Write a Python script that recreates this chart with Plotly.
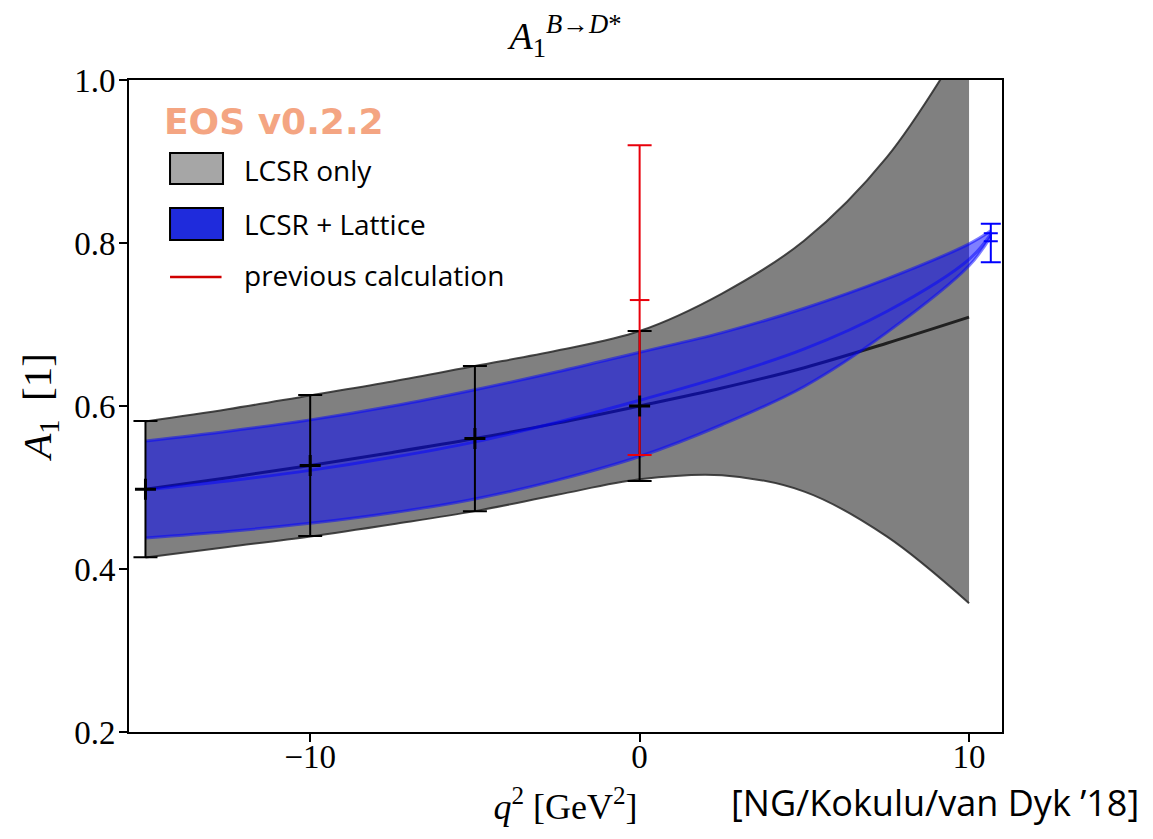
import plotly.graph_objects as go

# ---------------- data ----------------
q2_lcsr = [-15, -12.5, -10, -7.5, -5, -2.5, 0, 2.5, 5, 7.5, 10]
lcsr_upper = [0.581, 0.596, 0.613, 0.630, 0.649, 0.668, 0.692, 0.738, 0.803, 0.905, 1.058]
lcsr_central = [0.498, 0.512, 0.527, 0.543, 0.560, 0.579, 0.600, 0.622, 0.647, 0.677, 0.709]
lcsr_lower = [0.414, 0.427, 0.440, 0.455, 0.471, 0.491, 0.510, 0.515, 0.495, 0.440, 0.358]

q2_lat = [-15, -12.5, -10, -7.5, -5, -2.5, 0, 2.5, 5, 7.5, 10, 10.66]
lat_upper = [0.557, 0.569, 0.583, 0.600, 0.620, 0.642, 0.666, 0.690, 0.720, 0.756, 0.799, 0.815]
lat_central = [0.497, 0.508, 0.521, 0.537, 0.556, 0.580, 0.607, 0.636, 0.670, 0.716, 0.780, 0.811]
lat_lower = [0.438, 0.446, 0.456, 0.469, 0.486, 0.509, 0.538, 0.577, 0.624, 0.690, 0.772, 0.808]

lcsr_pts_q2 = [-15, -10, -5, 0]
lcsr_pts_val = [0.498, 0.527, 0.560, 0.600]
lcsr_pts_err = [0.0835, 0.0865, 0.089, 0.092]

prev_q2 = [0]
prev_val = [0.730]
prev_err = [0.190]

lat_pts_q2 = [10.66]
lat_pts_val_outer = [0.800]
lat_pts_err_outer = [0.0235]
lat_pts_val_inner = [0.807]
lat_pts_err_inner = [0.005]

x_ticks = [-10, 0, 10]
x_tick_labels = ["\u221210", "0", "10"]
y_ticks = [0.2, 0.4, 0.6, 0.8, 1.0]
y_tick_labels = ["0.2", "0.4", "0.6", "0.8", "1.0"]

legend_labels = ["LCSR only", "LCSR + Lattice", "previous calculation"]

# ---------------- styles ----------------
SERIF = "Liberation Serif, DejaVu Serif, serif"
SANS = "Open Sans, Noto Sans, sans-serif"
GREY_FILL = "#808080"
GREY_EDGE = "rgba(40,40,40,0.85)"
BLUE_A = "rgba(0,0,255,0.5)"
RED = "#e8000b"

fig = go.Figure()

# LCSR only band
fig.add_trace(go.Scatter(x=q2_lcsr, y=lcsr_upper, mode="lines",
                         line=dict(color=GREY_EDGE, width=2, shape="spline"),
                         showlegend=False, hoverinfo="skip"))
fig.add_trace(go.Scatter(x=q2_lcsr, y=lcsr_lower, mode="lines",
                         line=dict(color=GREY_EDGE, width=2, shape="spline"),
                         fill="tonexty", fillcolor=GREY_FILL,
                         showlegend=False, hoverinfo="skip"))
fig.add_trace(go.Scatter(x=q2_lcsr, y=lcsr_central, mode="lines",
                         line=dict(color="rgba(0,0,0,0.75)", width=3, shape="spline"),
                         showlegend=False, hoverinfo="skip"))

# LCSR + Lattice band
fig.add_trace(go.Scatter(x=q2_lat, y=lat_upper, mode="lines",
                         line=dict(color=BLUE_A, width=3, shape="spline"),
                         showlegend=False, hoverinfo="skip"))
fig.add_trace(go.Scatter(x=q2_lat, y=lat_lower, mode="lines",
                         line=dict(color=BLUE_A, width=3, shape="spline"),
                         fill="tonexty", fillcolor=BLUE_A,
                         showlegend=False, hoverinfo="skip"))
fig.add_trace(go.Scatter(x=q2_lat, y=lat_central, mode="lines",
                         line=dict(color=BLUE_A, width=3, shape="spline"),
                         showlegend=False, hoverinfo="skip"))

# LCSR error bars (bars only)
fig.add_trace(go.Scatter(x=lcsr_pts_q2, y=lcsr_pts_val, mode="markers",
                         marker=dict(size=1, color="rgba(0,0,0,0)"),
                         error_y=dict(type="data", array=lcsr_pts_err, color="black",
                                      thickness=2, width=12),
                         showlegend=False))
# previous calculation
fig.add_trace(go.Scatter(x=prev_q2, y=prev_val, mode="markers",
                         marker=dict(symbol="line-ew", size=14,
                                     line=dict(color=RED, width=2), color=RED),
                         error_y=dict(type="data", array=prev_err, color=RED,
                                      thickness=2, width=12),
                         showlegend=False))
# LCSR central markers
fig.add_trace(go.Scatter(x=lcsr_pts_q2, y=lcsr_pts_val, mode="markers",
                         marker=dict(symbol="cross-thin", size=15,
                                     line=dict(color="black", width=3)),
                         showlegend=False))
# lattice points
fig.add_trace(go.Scatter(x=lat_pts_q2, y=lat_pts_val_outer, mode="markers",
                         marker=dict(size=1, color="rgba(0,0,0,0)"),
                         error_y=dict(type="data", array=lat_pts_err_outer, color="#0000ff",
                                      thickness=2, width=10),
                         showlegend=False))
fig.add_trace(go.Scatter(x=lat_pts_q2, y=lat_pts_val_inner, mode="markers",
                         marker=dict(size=1, color="rgba(0,0,0,0)"),
                         error_y=dict(type="data", array=lat_pts_err_inner, color="#0000ff",
                                      thickness=2, width=7),
                         showlegend=False))

# ---------------- hand-made legend ----------------
shapes = [
    dict(type="rect", xref="paper", yref="paper", x0=0.047, x1=0.1077, y0=0.8405, y1=0.888,
         fillcolor="#a6a6a6", line=dict(color="black", width=2)),
    dict(type="rect", xref="paper", yref="paper", x0=0.047, x1=0.1077, y0=0.7546, y1=0.8037,
         fillcolor="#1f2bdc", line=dict(color="black", width=2)),
    dict(type="line", xref="paper", yref="paper", x0=0.047, x1=0.106, y0=0.698, y1=0.698,
         line=dict(color="#d00000", width=2.5)),
]
annotations = [
    dict(text="<b>EOS v0.2.2</b>", xref="paper", yref="paper", x=0.038, y=0.9356,
         xanchor="left", yanchor="middle", showarrow=False,
         font=dict(family="DejaVu Sans, sans-serif", size=36, color="#f4a582")),
    dict(text=legend_labels[0], xref="paper", yref="paper", x=0.1295, y=0.862,
         xanchor="left", yanchor="middle", showarrow=False,
         font=dict(family=SANS, size=28, color="black")),
    dict(text=legend_labels[1], xref="paper", yref="paper", x=0.1295, y=0.779,
         xanchor="left", yanchor="middle", showarrow=False,
         font=dict(family=SANS, size=28, color="black")),
    dict(text=legend_labels[2], xref="paper", yref="paper", x=0.1295, y=0.701,
         xanchor="left", yanchor="middle", showarrow=False,
         font=dict(family=SANS, size=28, color="black")),
    dict(text="[NG/Kokulu/van Dyk \u201918]", xref="paper", yref="paper", x=1.159, y=-0.1488,
         xanchor="right", yanchor="bottom", showarrow=False,
         font=dict(family=SANS, size=36, color="black")),
]

axis_common = dict(showgrid=False, zeroline=False, showline=True, linecolor="black",
                   linewidth=2, mirror=True, ticks="outside", ticklen=8, tickwidth=1.5,
                   tickcolor="black", tickfont=dict(family=SERIF, size=33, color="black"))

# the page body adds an 8px offset; the figure is sized so that the plot area
# lands where it is in the reference
fig.update_layout(
    width=1137, height=823,
    margin=dict(l=121, r=143, t=72, b=99),
    plot_bgcolor="white", paper_bgcolor="white",
    title=dict(text="<i>A</i><sub>1</sub><sup><i>B</i>\u2192<i>D</i>*</sup>",
               x=0.5, xref="paper", y=0.966, yref="container",
               xanchor="center", yanchor="middle",
               font=dict(family=SERIF, size=38, color="black")),
    xaxis=dict(range=[-15.5, 11.0], tickvals=x_ticks, ticktext=x_tick_labels,
               ticklabelstandoff=-14,
               title=dict(text="<i>q</i><sup>2</sup> [GeV<sup>2</sup>]",
                          font=dict(family=SERIF, size=36, color="black"), standoff=20),
               **axis_common),
    yaxis=dict(range=[0.2, 1.0], tickvals=y_ticks, ticktext=y_tick_labels,
               ticklabelstandoff=-3,
               title=dict(text="<i>A</i><sub>1</sub>\u2009 [1]",
                          font=dict(family=SERIF, size=41, color="black"), standoff=10),
               **axis_common),
    shapes=shapes, annotations=annotations,
    showlegend=False,
)

fig.write_html("out.html")
